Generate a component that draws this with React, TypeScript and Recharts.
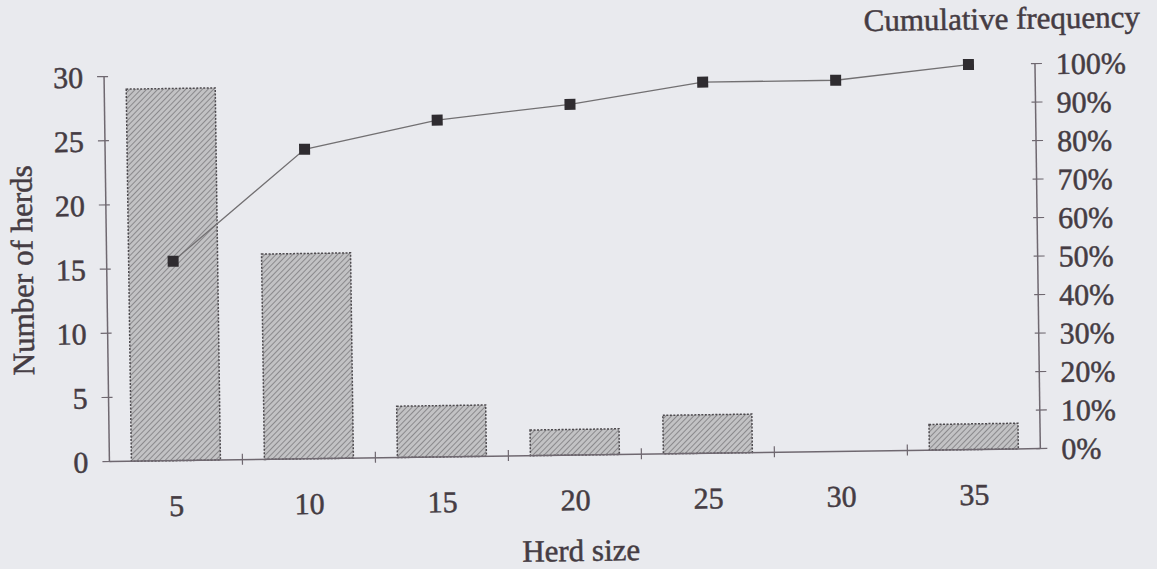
import { ComposedChart, Bar, Line, XAxis, YAxis } from "recharts";

const herdSizes = [5, 10, 15, 20, 25, 30, 35];
const herdCounts = [29, 16, 4, 2, 3, 0, 2];
const cumulativePct = [51.8, 80.4, 87.5, 91.1, 96.4, 96.4, 100];
const countTicks = [0, 5, 10, 15, 20, 25, 30];
const pctTicks = [0, 10, 20, 30, 40, 50, 60, 70, 80, 90, 100];
// class boundaries between the herd size groups, where the x tick marks sit
const sizeEdges = [7.5, 12.5, 17.5, 22.5, 27.5, 32.5];
const sizeTicks = [...herdSizes, ...sizeEdges].sort((a, b) => a - b);

const data = herdSizes.map((size, i) => ({
  size,
  herds: herdCounts[i],
  cum: cumulativePct[i],
}));

const FONT = "'Liberation Serif', 'Times New Roman', serif";
const INK = "#453c43";
const AXIS = "#6f6870";
const BG = "#e9eaee";

const textStyle = { stroke: INK, strokeWidth: 0.5 };

function CountTick({ x, y, payload }: any) {
  return (
    <g>
      <line x1={x - 7} x2={x + 4} y1={y} y2={y} stroke={AXIS} strokeWidth={1.2} />
      <text x={x - 21} y={y} dy="0.36em" textAnchor="end" fill={INK} fontSize={30} fontFamily={FONT} style={textStyle}>
        {payload.value}
      </text>
    </g>
  );
}

function PctTick({ x, y, payload }: any) {
  return (
    <g>
      <line x1={x - 4} x2={x + 7} y1={y} y2={y} stroke={AXIS} strokeWidth={1.2} />
      <text x={x + 21} y={y} dy="0.36em" textAnchor="start" fill={INK} fontSize={30} fontFamily={FONT} style={textStyle}>
        {payload.value}%
      </text>
    </g>
  );
}

// boundary values get a crossing tick mark, herd sizes get a label
function SizeTick({ x, y, payload }: any) {
  if (sizeEdges.includes(payload.value)) {
    return <line x1={x} x2={x} y1={y - 6} y2={y + 5} stroke={AXIS} strokeWidth={1.2} />;
  }
  return (
    <text x={x} y={y + 34} dy="0.71em" textAnchor="middle" fill={INK} fontSize={30} fontFamily={FONT} style={textStyle}>
      {payload.value}
    </text>
  );
}

function SquareDot({ cx, cy, index }: any) {
  if (cx == null || cy == null) return null;
  return <rect key={index} x={cx - 5.5} y={cy - 5.5} width={11} height={11} fill="#2f2c30" />;
}

export default function App() {
  return (
    <div style={{ position: "absolute", left: 0, top: 0, width: 1157, height: 569, background: BG, overflow: "hidden" }}>
      <div style={{ width: 1157, height: 569, transform: "rotate(-0.8deg)" }}>
        <ComposedChart
          width={1157}
          height={569}
          data={data}
          margin={{ top: 70, right: 0, bottom: 113, left: 0 }}
        >
          <defs>
            <pattern id="hatch" width="4" height="4" patternUnits="userSpaceOnUse" patternTransform="rotate(45)">
              <rect width="4" height="4" fill="#c2c2c4" />
              <line x1="0" y1="0" x2="0" y2="4" stroke="#7c7b7e" strokeWidth="1.6" />
            </pattern>
          </defs>
          <XAxis
            dataKey="size"
            type="number"
            domain={[2.5, 37.5]}
            allowDataOverflow
            ticks={sizeTicks}
            interval={0}
            height={1}
            axisLine={{ stroke: AXIS, strokeWidth: 1.5 }}
            tickLine={false}
            tickSize={0}
            tickMargin={0}
            tick={<SizeTick />}
            label={{
              value: "Herd size",
              position: "bottom",
              offset: 83,
              dx: 5,
              fill: INK,
              fontSize: 31,
              fontFamily: FONT,
              style: textStyle,
            }}
          />
          <YAxis
            yAxisId="count"
            width={107}
            domain={[0, 30]}
            ticks={countTicks}
            interval={0}
            axisLine={{ stroke: AXIS, strokeWidth: 1.5 }}
            tickLine={false}
            tickSize={0}
            tickMargin={0}
            tick={<CountTick />}
            label={{
              value: "Number of herds",
              angle: -90,
              position: "insideLeft",
              offset: 22,
              style: { textAnchor: "middle", ...textStyle },
              fill: INK,
              fontSize: 31,
              fontFamily: FONT,
            }}
          />
          <YAxis
            yAxisId="pct"
            orientation="right"
            width={119}
            domain={[0, 100]}
            ticks={pctTicks}
            interval={0}
            axisLine={{ stroke: AXIS, strokeWidth: 1.5 }}
            tickLine={false}
            tickSize={0}
            tickMargin={0}
            tick={<PctTick />}
            label={{
              value: "Cumulative frequency",
              position: "top",
              offset: 35,
              dx: -92,
              fill: INK,
              fontSize: 31,
              fontFamily: FONT,
              style: textStyle,
            }}
          />
          <Bar
            yAxisId="count"
            dataKey="herds"
            barSize={89}
            fill="url(#hatch)"
            stroke="#4d4a4e"
            strokeWidth={1.5}
            strokeDasharray="2 1.5"
            isAnimationActive={false}
          />
          <Line
            yAxisId="pct"
            dataKey="cum"
            stroke="#727072"
            strokeWidth={1.3}
            dot={<SquareDot />}
            activeDot={false}
            isAnimationActive={false}
          />
        </ComposedChart>
      </div>
    </div>
  );
}
